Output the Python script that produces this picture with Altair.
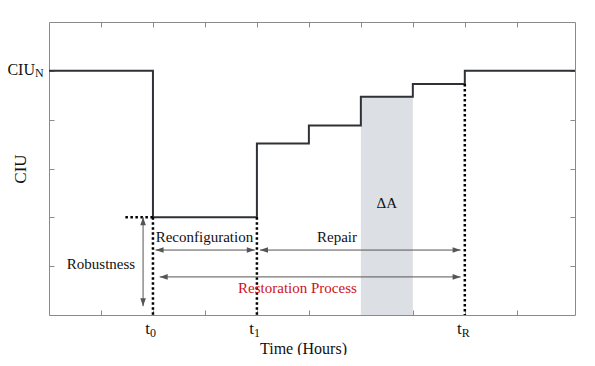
import altair as alt
import pandas as pd

# ---- data ----
step_x = [0, 2, 4, 5, 6, 7, 8, 10.12]
step_y = [5, 2, 3.51, 3.88, 4.47, 4.73, 5, 5]

shade_x = [6]
shade_x2 = [7]
shade_y2 = [4.47]

vdot_x = [2, 4, 8]
vdot_top = [2, 2, 4.73]
hdot_x = [1.47]
hdot_x2 = [2]
hdot_y = [2]

harrow_start = [2.05, 4.06, 2.13]
harrow_end = [3.96, 7.92, 7.92]
harrow_y = [1.33, 1.33, 0.78]
varrow_x = [1.81]
varrow_top = [2]
varrow_bottom = [0.18]

ann_text = ["Reconfiguration", "Repair", "Robustness", "ΔA"]
ann_x = [2.99, 5.54, 1.0, 6.5]
ann_y = [1.6, 1.6, 1.04, 2.29]
red_text = ["Restoration Process"]
red_x = [4.78]
red_y = [0.55]

xtick_pos = [2, 4, 8]
xtick_main = ["t", "t", "t"]
xtick_sub = ["0", "1", "R"]
ytick_pos = [5]
ytick_main = ["CIU"]
ytick_sub = ["N"]

tick_values_x = [1, 2, 3, 4, 5, 6, 7, 8, 9]
tick_values_y = [1, 2, 3, 4, 5]

FONT = "Liberation Serif"
FRAME = "#8a8a8a"
xs = alt.Scale(domain=[0, 10.12], nice=False, zero=False)
ys = alt.Scale(domain=[0, 6], nice=False, zero=False)

def ax(vals, **kw):
    # ticks drawn inward: axis moved 5px inside, ticks 5px long back to the frame
    return dict(values=vals, tickSize=5, labels=False, domain=False,
                grid=False, offset=-5, tickColor=FRAME, tickWidth=1, **kw)

step_df = pd.DataFrame({"x": step_x, "y": step_y})
step = alt.Chart(step_df).mark_line(interpolate="step-after", color="#2e3236",
                                     strokeWidth=2).encode(
    x=alt.X("x:Q", scale=xs, axis=alt.Axis(orient="bottom", title="Time (Hours)",
            titleFont=FONT, titleFontSize=16, titleFontWeight="normal", titleColor="#111",
            titleX=254, titleY=43, titleBaseline="alphabetic", titleAlign="center",
            **ax(tick_values_x))),
    y=alt.Y("y:Q", scale=ys, axis=alt.Axis(orient="left", title="CIU",
            titleFont=FONT, titleFontSize=17, titleFontWeight="normal", titleColor="#111",
            titleX=-29, titleY=146.5, titleAngle=-90, titleBaseline="alphabetic",
            titleAlign="center", **ax(tick_values_y))),
)

shade_df = pd.DataFrame({"x": shade_x, "x2": shade_x2, "y2": shade_y2})
shade = alt.Chart(shade_df).mark_rect(color="#dcdfe3").encode(
    x=alt.X("x:Q", scale=xs, axis=alt.Axis(orient="top", title=None, **ax(tick_values_x))),
    x2="x2:Q",
    y=alt.Y("y0:Q", scale=ys, axis=alt.Axis(orient="right", title=None, **ax(tick_values_y))),
    y2="y2:Q",
).transform_calculate(y0="0")

dot_style = dict(color="black", strokeWidth=2.5, strokeDash=[2.5, 2.5])
vdot_df = pd.DataFrame({"x": vdot_x, "top": vdot_top})
vdot = alt.Chart(vdot_df).mark_rule(**dot_style).encode(
    x=alt.X("x:Q", scale=xs, axis=None),
    y=alt.Y("top:Q", scale=ys, axis=None),
    y2=alt.datum(0),
)
hdot_df = pd.DataFrame({"x": hdot_x, "x2": hdot_x2, "y": hdot_y})
hdot = alt.Chart(hdot_df).mark_rule(**dot_style).encode(
    x=alt.X("x:Q", scale=xs, axis=None), x2="x2:Q",
    y=alt.Y("y:Q", scale=ys, axis=None),
)

ARROW = "#555555"
ha_df = pd.DataFrame({"x": harrow_start, "x2": harrow_end, "y": harrow_y})
ha_line = alt.Chart(ha_df).mark_rule(color=ARROW, strokeWidth=1).encode(
    x=alt.X("x:Q", scale=xs, axis=None), x2="x2:Q",
    y=alt.Y("y:Q", scale=ys, axis=None),
)
head_left = alt.Chart(ha_df).mark_point(shape="M0,0L1,-0.35L1,0.35Z", filled=True,
                                        color=ARROW, size=256, opacity=1).encode(
    x=alt.X("x:Q", scale=xs, axis=None), y=alt.Y("y:Q", scale=ys, axis=None))
head_right = alt.Chart(ha_df).mark_point(shape="M0,0L-1,-0.35L-1,0.35Z", filled=True,
                                         color=ARROW, size=256, opacity=1).encode(
    x=alt.X("x2:Q", scale=xs, axis=None), y=alt.Y("y:Q", scale=ys, axis=None))

va_df = pd.DataFrame({"x": varrow_x, "top": varrow_top, "bottom": varrow_bottom})
va_line = alt.Chart(va_df).mark_rule(color=ARROW, strokeWidth=1).encode(
    x=alt.X("x:Q", scale=xs, axis=None),
    y=alt.Y("top:Q", scale=ys, axis=None), y2="bottom:Q",
)
head_up = alt.Chart(va_df).mark_point(shape="M0,0L-0.35,1L0.35,1Z", filled=True,
                                      color=ARROW, size=256, opacity=1).encode(
    x=alt.X("x:Q", scale=xs, axis=None), y=alt.Y("top:Q", scale=ys, axis=None))
head_down = alt.Chart(va_df).mark_point(shape="M0,0L-0.35,-1L0.35,-1Z", filled=True,
                                        color=ARROW, size=256, opacity=1).encode(
    x=alt.X("x:Q", scale=xs, axis=None), y=alt.Y("bottom:Q", scale=ys, axis=None))

ann_df = pd.DataFrame({"t": ann_text, "x": ann_x, "y": ann_y})
ann = alt.Chart(ann_df).mark_text(font=FONT, fontSize=15, color="#111",
                                  baseline="middle", align="center").encode(
    x=alt.X("x:Q", scale=xs, axis=None), y=alt.Y("y:Q", scale=ys, axis=None), text="t:N")
red_df = pd.DataFrame({"t": red_text, "x": red_x, "y": red_y})
red = alt.Chart(red_df).mark_text(font=FONT, fontSize=15, color="#d0121c",
                                  baseline="middle", align="center").encode(
    x=alt.X("x:Q", scale=xs, axis=None), y=alt.Y("y:Q", scale=ys, axis=None), text="t:N")

xt_df = pd.DataFrame({"x": xtick_pos, "m": xtick_main, "s": xtick_sub})
xt_main = alt.Chart(xt_df).mark_text(font=FONT, fontSize=17, color="#111", align="right",
                                     baseline="alphabetic", dx=-3, dy=19).encode(
    x=alt.X("x:Q", scale=xs, axis=None), y=alt.YDatum(0, scale=ys, axis=None), text="m:N")
xt_sub = alt.Chart(xt_df).mark_text(font=FONT, fontSize=12, color="#111", align="left",
                                    baseline="alphabetic", dx=-3, dy=22).encode(
    x=alt.X("x:Q", scale=xs, axis=None), y=alt.YDatum(0, scale=ys, axis=None), text="s:N")

yt_df = pd.DataFrame({"y": ytick_pos, "m": ytick_main, "s": ytick_sub})
yt_main = alt.Chart(yt_df).mark_text(font=FONT, fontSize=16, color="#111", align="right",
                                     baseline="alphabetic", dx=-14, dy=4).encode(
    x=alt.XDatum(0, scale=xs, axis=None), y=alt.Y("y:Q", scale=ys, axis=None), text="m:N")
yt_sub = alt.Chart(yt_df).mark_text(font=FONT, fontSize=12, color="#111", align="left",
                                    baseline="alphabetic", dx=-14, dy=6).encode(
    x=alt.XDatum(0, scale=xs, axis=None), y=alt.Y("y:Q", scale=ys, axis=None), text="s:N")

chart = alt.layer(
    shade, step, vdot, hdot, ha_line, head_left, head_right, va_line, head_up, head_down,
    ann, red, xt_main, xt_sub, yt_main, yt_sub,
).resolve_axis(x="independent", y="independent").properties(
    width=526, height=293,
    autosize=alt.AutoSizeParams(type="none"),
    padding={"left": 41, "top": 14, "right": 10, "bottom": 40},
).configure_view(stroke=FRAME, strokeWidth=1)

chart.save("out.html", embed_options={"renderer": "svg", "actions": False})
